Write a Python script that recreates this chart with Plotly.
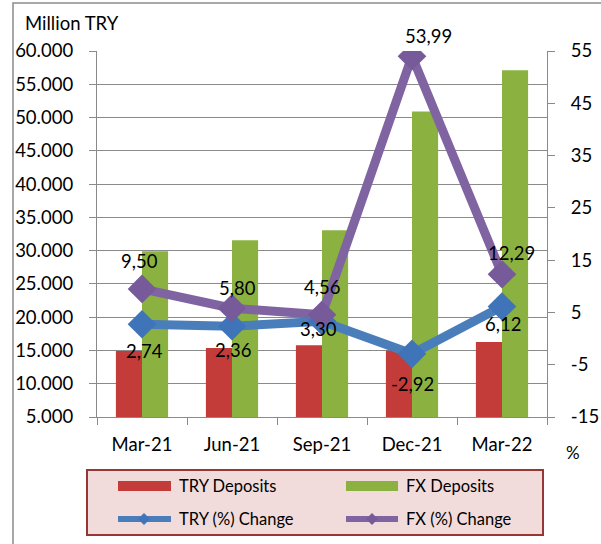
import plotly.graph_objects as go

# Quarterly deposit volumes (million TRY) and quarter-on-quarter change (%)
quarters = ["Mar-21", "Jun-21", "Sep-21", "Dec-21", "Mar-22"]
try_deposits = [14900, 15370, 15770, 15000, 16270]
fx_deposits = [29900, 31550, 33050, 50900, 57100]
try_change = [2.74, 2.36, 3.30, -2.92, 6.12]
fx_change = [9.50, 5.80, 4.56, 53.99, 12.29]

left_ticks = list(range(5000, 60001, 5000))
right_ticks = [-15, -5, 5, 15, 25, 35, 45, 55]

# Label offsets (pixels) relative to each marker
fx_label_shift = [(-3, 28), (5, 20), (0, 28), (16, 20), (9, 21)]
try_label_shift = [(2, -27), (1, -24), (-4, -8), (0, -30), (1, -17)]

RED = "#c43c39"
GREEN = "#8bb241"
BLUE = "#4a7ebb"
PURPLE = "#8064a2"
GRID = "#8a8a8a"
FONT = "Lato"

W, H = 601, 544
L, R, T, B = 97, 54, 51, 127
PW, PH = W - L - R, H - T - B


def px(x):
    return (x - L) / PW


def py(y):
    return (H - B - y) / PH


def fmt(v):
    return f"{v:.2f}".replace(".", ",")


fig = go.Figure()
fig.add_trace(go.Bar(x=quarters, y=try_deposits, name="TRY Deposits",
                     marker=dict(color=RED, line=dict(width=0)), yaxis="y"))
fig.add_trace(go.Bar(x=quarters, y=fx_deposits, name="FX Deposits",
                     marker=dict(color=GREEN, line=dict(width=0)), yaxis="y"))
fig.add_trace(go.Scatter(x=quarters, y=try_change, name="TRY (%) Change",
                         mode="lines+markers", yaxis="y2",
                         line=dict(color=BLUE, width=9),
                         marker=dict(symbol="diamond", size=22, color="#3f75b8")))
fig.add_trace(go.Scatter(x=quarters, y=fx_change, name="FX (%) Change",
                         mode="lines+markers", yaxis="y2",
                         line=dict(color=PURPLE, width=9),
                         marker=dict(symbol="diamond", size=22, color="#765a9a")))

annotations = []
for q, v, (dx, dy) in zip(quarters, fx_change, fx_label_shift):
    annotations.append(dict(x=q, y=v, xref="x", yref="y2", text=fmt(v),
                            showarrow=False, xshift=dx, yshift=dy,
                            font=dict(size=18.5, color="black", family=FONT)))
for q, v, (dx, dy) in zip(quarters, try_change, try_label_shift):
    annotations.append(dict(x=q, y=v, xref="x", yref="y2", text=fmt(v),
                            showarrow=False, xshift=dx, yshift=dy,
                            font=dict(size=18.5, color="black", family=FONT)))

annotations.append(dict(x=px(23), y=py(23), xref="paper", yref="paper",
                        text="Million TRY", showarrow=False, xanchor="left",
                        yanchor="middle", font=dict(size=18.5, color="black", family=FONT)))
annotations.append(dict(x=px(573), y=py(452), xref="paper", yref="paper",
                        text="%", showarrow=False, xanchor="center",
                        yanchor="middle", font=dict(size=17, color="black", family=FONT)))

shapes = [
    # chart frame
    dict(type="path", xref="paper", yref="paper",
         path=f"M {px(13)} {py(544)} L {px(13)} {py(3)} L {px(601)} {py(3)}",
         line=dict(color="#8c8c8c", width=1.5)),
    # legend box
    dict(type="rect", xref="paper", yref="paper",
         x0=px(87), x1=px(543), y0=py(535), y1=py(470),
         fillcolor="#f2dcdb", line=dict(color="#953735", width=2)),
    # legend swatches
    dict(type="rect", xref="paper", yref="paper",
         x0=px(118), x1=px(171), y0=py(491), y1=py(481),
         fillcolor=RED, line=dict(width=0)),
    dict(type="rect", xref="paper", yref="paper",
         x0=px(346), x1=px(398), y0=py(491), y1=py(481),
         fillcolor=GREEN, line=dict(width=0)),
    dict(type="line", xref="paper", yref="paper",
         x0=px(118), x1=px(171), y0=py(519), y1=py(519),
         line=dict(color=BLUE, width=6)),
    dict(type="line", xref="paper", yref="paper",
         x0=px(346), x1=px(398), y0=py(519), y1=py(519),
         line=dict(color=PURPLE, width=6)),
]
for cx, col in [(144, "#3f75b8"), (372, "#765a9a")]:
    shapes.append(dict(type="path", xref="paper", yref="paper",
                       path=(f"M {px(cx)} {py(513)} L {px(cx + 6)} {py(519)} "
                             f"L {px(cx)} {py(525)} L {px(cx - 6)} {py(519)} Z"),
                       fillcolor=col, line=dict(width=0)))

for tx, ty, label in [(177, 486, "TRY Deposits"), (404, 486, "FX Deposits"),
                      (177, 519, "TRY (%) Change"), (404, 519, "FX (%) Change")]:
    annotations.append(dict(x=px(tx), y=py(ty), xref="paper", yref="paper",
                            text=label, showarrow=False, xanchor="left",
                            yanchor="middle",
                            font=dict(size=16.5, color="black", family=FONT)))

fig.update_layout(
    width=W, height=H,
    margin=dict(l=L, r=R, t=T, b=B, autoexpand=False),
    paper_bgcolor="white", plot_bgcolor="white",
    separators=",.",
    barmode="group", bargap=0.42, bargroupgap=0,
    showlegend=False,
    font=dict(family=FONT, size=18.5, color="black"),
    xaxis=dict(type="category", tickson="boundaries", ticks="outside",
               ticklen=7, tickcolor=GRID, tickwidth=1.3,
               showline=True, linecolor=GRID, linewidth=1.3,
               showgrid=False, ticklabelstandoff=11, automargin=False,
               tickfont=dict(size=18.5, family=FONT)),
    yaxis=dict(range=[5000, 60000], tickvals=left_ticks, tickformat=",d",
               showgrid=True, gridcolor=GRID, gridwidth=1.3,
               showline=True, linecolor=GRID, linewidth=1.3,
               ticks="outside", ticklen=7, tickcolor=GRID, tickwidth=1.3,
               zeroline=False, ticklabelstandoff=12, automargin=False,
               tickfont=dict(size=18.5, family=FONT)),
    yaxis2=dict(range=[-15, 55], overlaying="y", side="right",
                tickvals=right_ticks, ticktext=[str(v) for v in right_ticks],
                showgrid=False, zeroline=False,
                showline=True, linecolor=GRID, linewidth=1.3,
                ticks="outside", ticklen=7, tickcolor=GRID, tickwidth=1.3,
                ticklabelstandoff=12, automargin=False,
                tickfont=dict(size=18.5, family=FONT)),
    annotations=annotations,
    shapes=shapes,
)

fig.write_html("out.html")
